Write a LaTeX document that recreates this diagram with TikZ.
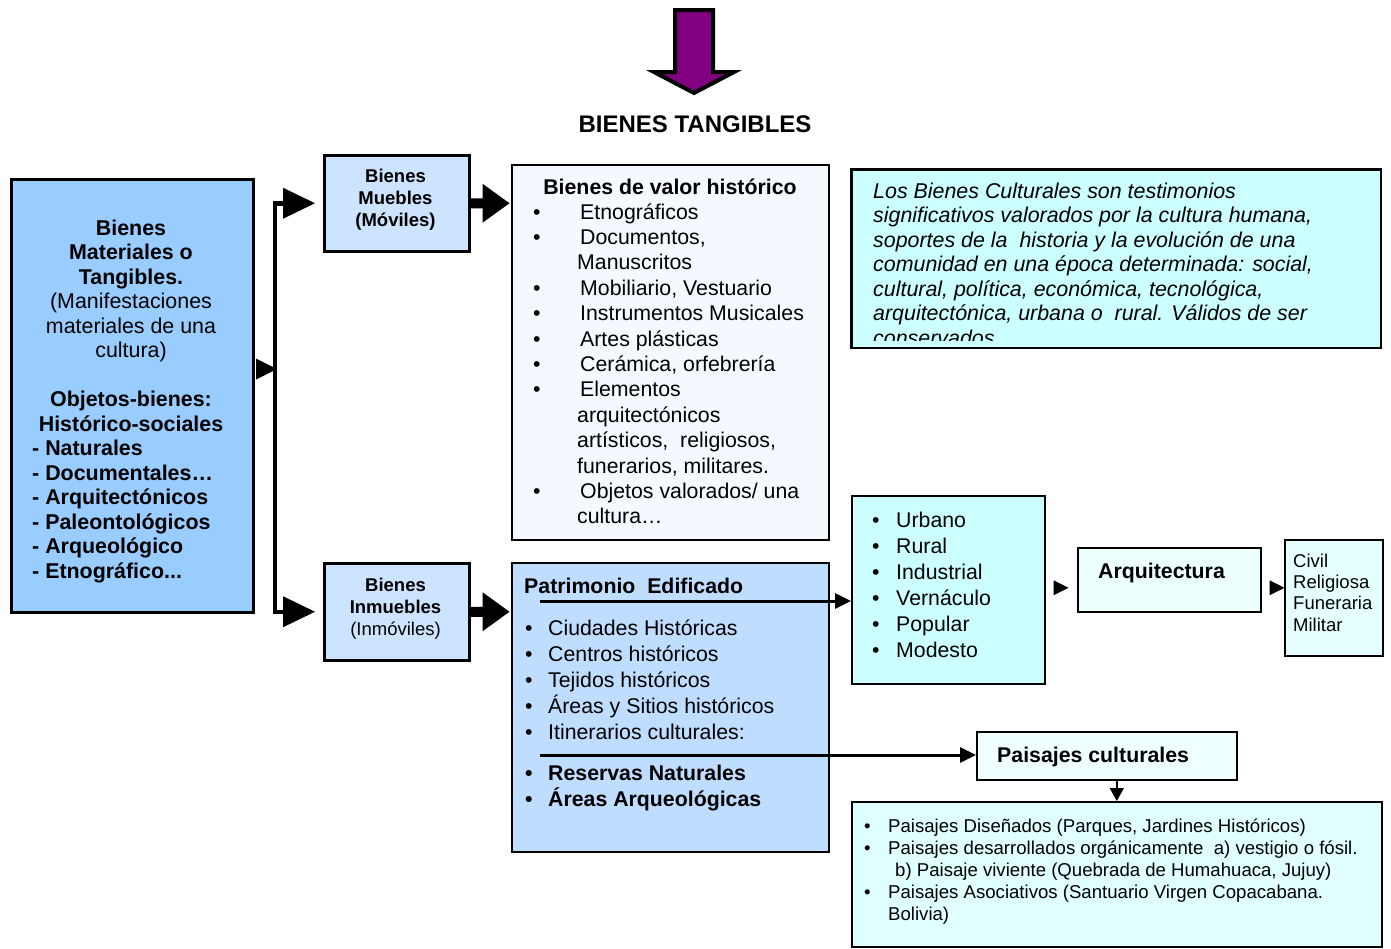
\documentclass[tikz,border=0pt]{standalone}
\usepackage{fontspec}
\setmainfont{Liberation Sans}
\usetikzlibrary{calc,arrows.meta}
\definecolor{cLeft}{HTML}{99CCFF}
\definecolor{cMueb}{HTML}{CCE4FF}
\definecolor{cValor}{HTML}{F4F9FF}
\definecolor{cPatr}{HTML}{BFDDFF}
\definecolor{cCyan}{HTML}{CCFFFF}
\definecolor{cArq}{HTML}{EBFFFF}
\definecolor{cCivil}{HTML}{E6FFFF}
\definecolor{cPais}{HTML}{F0FFFF}
\definecolor{cBot}{HTML}{E0FFFF}
\definecolor{cPurple}{HTML}{800080}
\newcommand{\fs}[2]{\fontsize{#1}{#2}\selectfont}
\newcommand{\bul}[1]{\makebox[#1][l]{\textbullet}}
\begin{document}
\begin{tikzpicture}[x=1pt,y=-1pt,
  box/.style={draw=black, line width=1.6pt, inner sep=0pt, anchor=north west},
  txt/.style={inner sep=0pt, anchor=base west},
  ctxt/.style={inner sep=0pt, anchor=base},
  thinarrow/.style={line width=3pt, -{Triangle[length=16pt,width=15pt]}},
  ]
\useasboundingbox[fill=white] (0,0) rectangle (1391,948);

% top purple arrow and title
\draw[fill=cPurple, line width=4pt, line join=miter]
  (675,10) -- (713,10) -- (713,72) -- (734,72) -- (694,93) -- (654,72) -- (675,72) -- cycle;
\node[ctxt, font=\fs{24}{28}\bfseries] (title) at (695,132) {BIENES TANGIBLES};

% boxes
\node[box, fill=cLeft, line width=3pt, minimum width=242, minimum height=433] (left) at (10,178) {};
\node[box, fill=cMueb, line width=2.5pt, minimum width=145, minimum height=96] (mueb) at (323,154) {};
\node[box, fill=cMueb, line width=2.5pt, minimum width=145, minimum height=97] (inm) at (323,562) {};
\node[box, fill=cValor, minimum width=317, minimum height=375] (valor) at (511,164) {};
\node[box, fill=cPatr, minimum width=317, minimum height=289] (patr) at (511,562) {};
\node[box, fill=cCyan, minimum width=529, minimum height=178] (info) at (851,169) {};
\node[box, fill=cCyan, minimum width=193, minimum height=188] (urb) at (851,495) {};
\node[box, fill=cArq, minimum width=183, minimum height=64] (arq) at (1077,547) {};
\node[box, fill=cCivil, minimum width=98, minimum height=116] (civil) at (1284,539) {};
\node[box, fill=cPais, minimum width=260, minimum height=48] (pais) at (976,731) {};
\node[box, fill=cBot, minimum width=530, minimum height=145] (bot) at (851,801) {};

% left box text
\node[ctxt] (tleft) at (131,235) {\parbox[t]{236pt}{\centering\fs{21.4}{24.5}\bfseries
  Bienes\\Materiales o\\Tangibles.\\\mdseries(Manifestaciones\\materiales de una\\cultura)\\[24.5pt]
  \bfseries Objetos-bienes:\\Histórico-sociales}};
\node[txt] (tleft2) at (32,455.5) {\parbox[t]{218pt}{\fs{21.4}{24.5}\bfseries
  - Naturales\\- Documentales…\\- Arquitectónicos\\- Paleontológicos\\- Arqueológico\\- Etnográfico...}};

% muebles / inmuebles text
\node[ctxt] (tmueb) at (395.5,182.5) {\parbox[t]{140pt}{\centering\fs{18.5}{22}\bfseries Bienes\\Muebles\\(Móviles)}};
\node[ctxt] (tinm) at (395.5,591.5) {\parbox[t]{140pt}{\centering\fs{18.5}{22}\bfseries Bienes\\Inmuebles\\\mdseries(Inmóviles)}};

% valor box text
\node[ctxt, font=\fs{21.3}{25}\bfseries] (tvalor) at (670,194) {Bienes de valor histórico};
\node[txt] (tvalor2) at (533,219) {\parbox[t]{300pt}{\fs{21.3}{25.4}
  \bul{47pt}Etnográficos\\
  \bul{47pt}Documentos,\\
  \hspace*{44pt}Manuscritos\\
  \bul{47pt}Mobiliario, Vestuario\\
  \bul{47pt}Instrumentos Musicales\\
  \bul{47pt}Artes plásticas\\
  \bul{47pt}Cerámica, orfebrería\\
  \bul{47pt}Elementos\\
  \hspace*{44pt}arquitectónicos\\
  \hspace*{44pt}artísticos,\ \ religiosos,\\
  \hspace*{44pt}funerarios, militares.\\
  \bul{47pt}Objetos valorados/ una\\
  \hspace*{44pt}cultura…}};

% patrimonio text
\node[txt, font=\fs{21.3}{25}\bfseries] (tpatr) at (524,593) {Patrimonio\ \ Edificado};
\node[txt] (tpatr2) at (525,635) {\parbox[t]{300pt}{\fs{21.3}{26}
  \bul{23pt}Ciudades Históricas\\
  \bul{23pt}Centros históricos\\
  \bul{23pt}Tejidos históricos\\
  \bul{23pt}Áreas y Sitios históricos\\
  \bul{23pt}Itinerarios culturales:}};
\node[txt] (tpatr3) at (525,780) {\parbox[t]{300pt}{\fs{21.3}{26}\bfseries
  \bul{23pt}Reservas Naturales\\
  \bul{23pt}Áreas Arqueológicas}};

% info text (clipped)
\begin{scope}
\clip (851,169) rectangle (1380,340);
\node[txt] (tinfo) at (873,198) {\parbox[t]{505pt}{\fs{21.4}{24.5}\itshape
  Los Bienes Culturales son testimonios\\
  significativos valorados por la cultura humana,\\
  soportes de la\ \ historia y la evolución de una\\
  comunidad en una época determinada: social,\\
  cultural, política, económica, tecnológica,\\
  arquitectónica, urbana o\ \ rural. Válidos de ser\\
  conservados}};
\end{scope}
\draw[line width=1.6pt] (info.north west) rectangle (info.south east);

% urbano text
\node[txt] (turb) at (872,527) {\parbox[t]{170pt}{\fs{21.3}{26}
  \bul{24pt}Urbano\\
  \bul{24pt}Rural\\
  \bul{24pt}Industrial\\
  \bul{24pt}Vernáculo\\
  \bul{24pt}Popular\\
  \bul{24pt}Modesto}};

\node[txt, font=\fs{21.3}{25}\bfseries] (tarq) at (1098,578) {Arquitectura};
\node[txt] (tcivil) at (1293,567) {\parbox[t]{88pt}{\fs{18.5}{21.4}Civil\\Religiosa\\Funeraria\\Militar}};
\node[txt, font=\fs{21.3}{25}\bfseries] (tpais) at (997,762) {Paisajes culturales};
\node[txt] (tbot) at (864,832) {\parbox[t]{515pt}{\fs{18.6}{22.2}
  \bul{24pt}Paisajes Diseñados (Parques, Jardines Históricos)\\
  \bul{24pt}Paisajes desarrollados orgánicamente\ \ a) vestigio o fósil.\\
  \hspace*{31pt}b) Paisaje viviente (Quebrada de Humahuaca, Jujuy)\\
  \bul{24pt}Paisajes Asociativos (Santuario Virgen Copacabana.\\
  \hspace*{24pt}Bolivia)}};

% connectors
\coordinate (lb) at ($(left.north east)+(1,191)$);
\fill (lb) ++(0,-10.5) -- ++(21,10.5) -- ++(-21,10.5) -- cycle;
\coordinate (bx) at (275,400);
\draw[line width=4.5pt, line join=miter] ([xshift=-38pt]mueb.west) -| (bx) |- ([xshift=-38pt]inm.west);
\fill ([xshift=-40pt]mueb.west) ++(0,-15.5) -- ++(32,15.5) -- ++(-32,15.5) -- cycle;
\fill ([xshift=-40pt]inm.west) ++(0,-15.5) -- ++(32,15.5) -- ++(-32,15.5) -- cycle;

\fill (mueb.east) ++(0,-5) -- ++(12,0) -- ++(0,-14.5) -- ++(27,19.5) -- ++(-27,19.5) -- ++(0,-14.5) -- ++(-12,0) -- cycle;
\fill (inm.east) ++(0,-5) -- ++(12,0) -- ++(0,-14.5) -- ++(27,19.5) -- ++(-27,19.5) -- ++(0,-14.5) -- ++(-12,0) -- cycle;

\coordinate (p1) at (540,601);
\coordinate (p2) at (540,755);
\draw[thinarrow] (p1) -- (p1 -| urb.west);
\draw[thinarrow] (p2) -- (p2 -| pais.west);

\coordinate (a1) at ($(urb.east)+(8,-2)$);
\fill (a1) ++(0,-7.5) -- ++(15,7.5) -- ++(-15,7.5) -- cycle;
\coordinate (a2) at ($(arq.east)+(8,8)$);
\fill (a2) ++(0,-7.5) -- ++(15,7.5) -- ++(-15,7.5) -- cycle;

\draw[line width=1.5pt, -{Triangle[length=13pt,width=14pt]}] (pais.south -| bot.north) -- (bot.north);
\end{tikzpicture}
\end{document}
